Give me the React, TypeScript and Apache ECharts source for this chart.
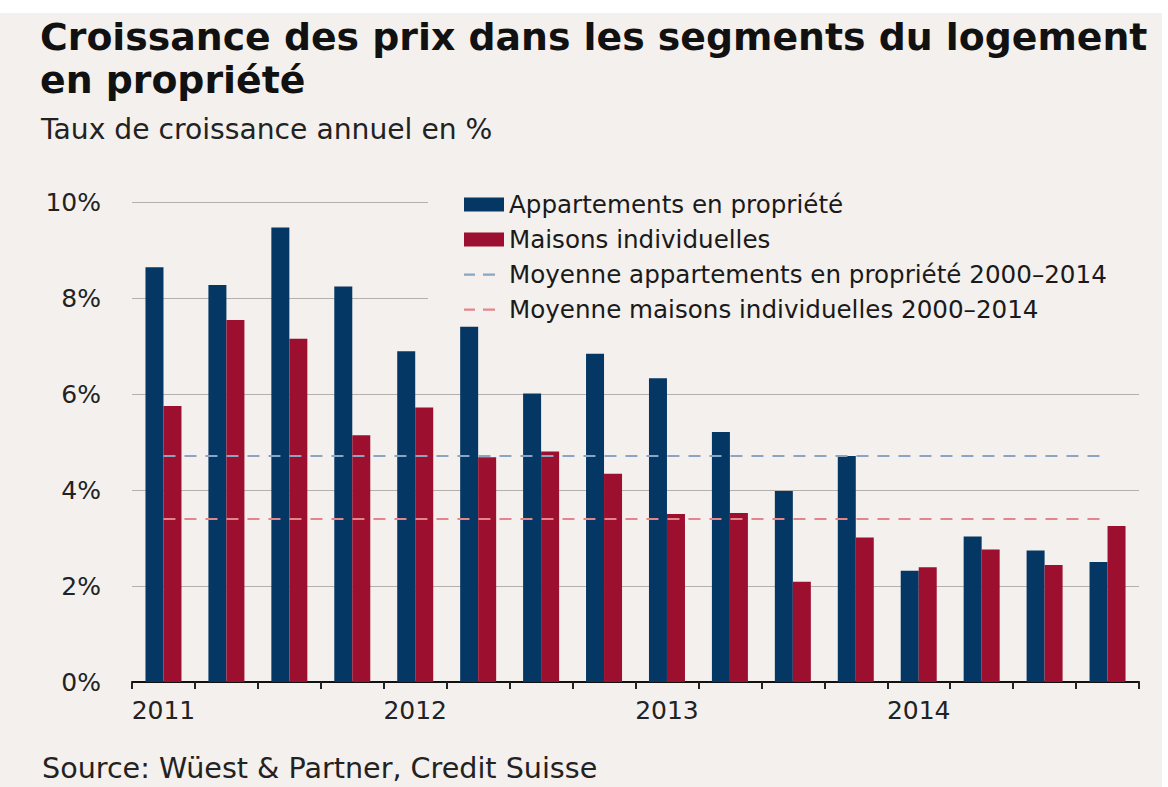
import React, { useEffect, useRef } from 'react';
import * as echarts from 'echarts';

const quarters = [
  '2011 T1', '2011 T2', '2011 T3', '2011 T4',
  '2012 T1', '2012 T2', '2012 T3', '2012 T4',
  '2013 T1', '2013 T2', '2013 T3', '2013 T4',
  '2014 T1', '2014 T2', '2014 T3', '2014 T4',
];
const yearLabels = ['2011', '2012', '2013', '2014'];
const appartements = [8.64, 8.27, 9.47, 8.24, 6.89, 7.40, 6.01, 6.84, 6.33, 5.21, 3.98, 4.71, 2.32, 3.03, 2.74, 2.50];
const maisons = [5.75, 7.54, 7.15, 5.14, 5.72, 4.68, 4.80, 4.34, 3.50, 3.52, 2.09, 3.01, 2.39, 2.76, 2.44, 3.25];
const moyenneAppartements = 4.71;
const moyenneMaisons = 3.40;
const yTicks = [0, 2, 4, 6, 8, 10];

const FONT = 'DejaVu Sans';
const BG = '#F4F0ED';
const BLUE = '#053764';
const RED = '#9C0F2E';
const BLUE_DASH = '#89A5C2';
const RED_DASH = '#E3858A';
const DASH_ICON = 'path://M0,0M40,14M0,6h11v2.2h-11zM19,6h12v2.2h-12z';

const names = {
  apt: 'Appartements en propriété',
  mai: 'Maisons individuelles',
  avgApt: 'Moyenne appartements en propriété 2000–2014',
  avgMai: 'Moyenne maisons individuelles 2000–2014',
};

export default function App() {
  const ref = useRef<HTMLDivElement>(null);
  useEffect(() => {
    document.body.style.margin = '0';
    const chart = echarts.init(ref.current!, null, { renderer: 'svg' });
    const last = quarters.length - 1;
    chart.setOption({
      animation: false,
      backgroundColor: 'transparent',
      textStyle: { fontFamily: FONT },
      title: [
        {
          text: 'Croissance des prix dans les segments du logement\nen propriété',
          left: 40,
          top: 15,
          padding: 0,
          textStyle: { fontFamily: FONT, fontSize: 37.8, fontWeight: 'bold', color: '#111', lineHeight: 43 },
        },
        {
          text: 'Taux de croissance annuel en %',
          left: 41,
          top: 116,
          padding: 0,
          textStyle: { fontFamily: FONT, fontSize: 28.2, fontWeight: 'normal', color: '#222', lineHeight: 27 },
        },
        {
          text: 'Source: Wüest & Partner, Credit Suisse',
          left: 42,
          top: 754,
          padding: 0,
          textStyle: { fontFamily: FONT, fontSize: 28.6, fontWeight: 'normal', color: '#222', lineHeight: 28 },
        },
      ],
      legend: {
        orient: 'vertical',
        left: 464,
        top: 192,
        padding: 0,
        itemGap: 10,
        itemWidth: 40,
        itemHeight: 14,
        textStyle: { fontFamily: FONT, fontSize: 24.6, color: '#1a1a1a', lineHeight: 24 },
        data: [
          { name: names.apt, icon: 'rect' },
          { name: names.mai, icon: 'rect' },
          { name: names.avgApt, icon: DASH_ICON },
          { name: names.avgMai, icon: DASH_ICON },
        ],
      },
      graphic: [
        {
          type: 'rect',
          z: 1,
          silent: true,
          shape: { x: 428, y: 190, width: 720, height: 115 },
          style: { fill: BG },
        },
      ],
      grid: { left: 132, right: 29, top: 202, bottom: 105 },
      xAxis: {
        type: 'category',
        data: quarters,
        boundaryGap: true,
        axisLine: { show: true, lineStyle: { color: '#111', width: 2 } },
        axisTick: { show: true, inside: false, interval: 0, length: 7, lineStyle: { color: '#222', width: 2 } },
        axisLabel: {
          show: true,
          interval: 3,
          margin: 16,
          fontFamily: FONT,
          fontSize: 25,
          color: '#222',
          formatter: (_v: string, i: number) => yearLabels[Math.floor(i / 4)],
        },
        splitLine: { show: false },
      },
      yAxis: {
        type: 'value',
        min: yTicks[0],
        max: yTicks[yTicks.length - 1],
        interval: 2,
        axisLine: { show: false },
        axisTick: { show: false },
        axisLabel: { margin: 31, fontFamily: FONT, fontSize: 25, color: '#222', formatter: '{value}%' },
        splitLine: { show: true, lineStyle: { color: '#B5B0AC', width: 1 } },
      },
      series: [
        {
          name: names.apt,
          type: 'bar',
          data: appartements,
          barWidth: 18,
          barGap: '0%',
          itemStyle: { color: BLUE },
        },
        {
          name: names.mai,
          type: 'bar',
          data: maisons,
          barWidth: 18,
          barGap: '0%',
          itemStyle: { color: RED },
        },
        {
          name: names.avgApt,
          type: 'line',
          data: [],
          color: BLUE_DASH,
          itemStyle: { color: BLUE_DASH },
          markLine: {
            silent: true,
            symbol: 'none',
            label: { show: false },
            lineStyle: { color: BLUE_DASH, width: 2.2, type: [12, 9] },
            data: [[{ coord: [0, moyenneAppartements] }, { coord: [last, moyenneAppartements] }]],
          },
        },
        {
          name: names.avgMai,
          type: 'line',
          data: [],
          color: RED_DASH,
          itemStyle: { color: RED_DASH },
          markLine: {
            silent: true,
            symbol: 'none',
            label: { show: false },
            lineStyle: { color: RED_DASH, width: 2.2, type: [12, 9] },
            data: [[{ coord: [0, moyenneMaisons] }, { coord: [last, moyenneMaisons] }]],
          },
        },
      ],
    });
    return () => chart.dispose();
  }, []);
  return (
    <div style={{ position: 'relative', width: 1168, height: 787, background: '#fff', overflow: 'hidden' }}>
      <div style={{ position: 'absolute', left: 0, top: 13, width: 1162, height: 774, background: BG }} />
      <div ref={ref} style={{ position: 'absolute', left: 0, top: 0, width: 1168, height: 787 }} />
    </div>
  );
}
